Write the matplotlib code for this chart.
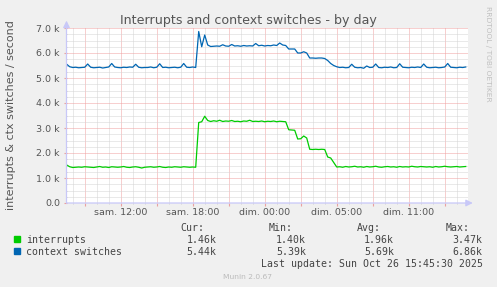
import numpy as np
import matplotlib
matplotlib.use("Agg")
import matplotlib.pyplot as plt
from matplotlib.patches import Rectangle

# 15 minute samples, in thousands per second
interrupts = [
    1.52, 1.45, 1.42, 1.43, 1.44, 1.43, 1.45, 1.44, 1.43, 1.42,
    1.44, 1.46, 1.43, 1.44, 1.42, 1.45, 1.44, 1.43, 1.44, 1.46,
    1.43, 1.42, 1.44, 1.45, 1.43, 1.40, 1.43, 1.44, 1.45, 1.43,
    1.44, 1.46, 1.43, 1.42, 1.44, 1.43, 1.45, 1.44, 1.43, 1.45,
    1.44, 1.43, 1.44, 1.43, 3.22, 3.25, 3.47, 3.30, 3.26, 3.29,
    3.27, 3.31, 3.26, 3.28, 3.27, 3.30, 3.26, 3.27, 3.25, 3.28,
    3.27, 3.31, 3.26, 3.27, 3.26, 3.28, 3.25, 3.27, 3.26, 3.28,
    3.25, 3.27, 3.26, 3.25, 2.93, 2.92, 2.91, 2.56, 2.57, 2.68,
    2.60, 2.15, 2.14, 2.15, 2.14, 2.15, 2.14, 1.84, 1.80, 1.62,
    1.44, 1.45, 1.43, 1.46, 1.44, 1.45, 1.47, 1.44, 1.45, 1.43,
    1.46, 1.44, 1.45, 1.47, 1.44, 1.43, 1.45, 1.46, 1.44, 1.45,
    1.43, 1.46, 1.44, 1.45, 1.44, 1.47, 1.45, 1.44, 1.46, 1.45,
    1.44, 1.45, 1.43, 1.46, 1.44, 1.45, 1.47, 1.45, 1.44, 1.45,
    1.46, 1.44, 1.45, 1.46,
]
ctx_switches = [
    5.55, 5.45, 5.42, 5.43, 5.41, 5.42, 5.43, 5.56, 5.43, 5.41,
    5.42, 5.43, 5.40, 5.42, 5.44, 5.58, 5.44, 5.42, 5.41, 5.43,
    5.42, 5.44, 5.43, 5.55, 5.43, 5.41, 5.42, 5.42, 5.44, 5.41,
    5.43, 5.57, 5.42, 5.43, 5.41, 5.42, 5.43, 5.41, 5.43, 5.58,
    5.43, 5.42, 5.44, 5.42, 6.86, 6.25, 6.72, 6.32, 6.26, 6.27,
    6.28, 6.27, 6.33, 6.28, 6.27, 6.34, 6.28, 6.29, 6.27, 6.30,
    6.28, 6.29, 6.28, 6.38, 6.29, 6.31, 6.28, 6.30, 6.29, 6.32,
    6.30, 6.40, 6.32, 6.30, 6.16, 6.16, 6.16, 6.00, 6.00, 6.05,
    6.00, 5.80, 5.80, 5.79, 5.80, 5.80, 5.78, 5.70, 5.58, 5.50,
    5.45, 5.42, 5.43, 5.41, 5.42, 5.55, 5.43, 5.41, 5.42, 5.39,
    5.48, 5.42, 5.43, 5.56, 5.42, 5.41, 5.43, 5.42, 5.44, 5.41,
    5.42, 5.57, 5.43, 5.42, 5.41, 5.43, 5.42, 5.44, 5.42, 5.56,
    5.43, 5.41, 5.42, 5.43, 5.41, 5.42, 5.44, 5.58, 5.43, 5.42,
    5.41, 5.43, 5.42, 5.44,
]
# hours relative to sam. 12:00
hours = np.arange(len(ctx_switches)) * 0.25 - 4.5

xtick_hours = [-3, 0, 3, 6, 9, 12, 15, 18, 21, 24, 27]
xtick_labels = ['', 'sam. 12:00', '', 'sam. 18:00', '', 'dim. 00:00', '',
                'dim. 05:00', '', 'dim. 11:00', '']
ytick_vals = [0, 1, 2, 3, 4, 5, 6, 7]

names = ['interrupts', 'context switches']
colors = ['#00cc00', '#0066b3']
cur = ['1.46k', '5.44k']
mins = ['1.40k', '5.39k']
avgs = ['1.96k', '5.69k']
maxs = ['3.47k', '6.86k']

W, H = 497, 287
def fy(py):
    return 1 - py / H

fig = plt.figure(figsize=(W / 100, H / 100), dpi=100, facecolor='#f0f0f0')
ax = fig.add_axes([66.5 / W, fy(203), (468 - 66.5) / W, (203 - 28) / H])
ax.set_facecolor('white')

ax.plot(hours, interrupts, color=colors[0], lw=0.9)
ax.plot(hours, ctx_switches, color=colors[1], lw=0.9)

ax.set_xlim(-4.517, 28.94)
ax.set_ylim(0, 7)
ax.set_xticks(xtick_hours)
ax.set_xticklabels(xtick_labels)
ax.set_xticks(np.arange(-4, 29, 1), minor=True)
ax.set_yticks(ytick_vals)
ax.set_yticklabels(['0.0'] + ['%.1f k' % v for v in ytick_vals[1:]])
ax.set_yticks(np.arange(0, 7.01, 0.25), minor=True)

ax.grid(which='minor', color='#d4d4d4', linestyle=(0, (1, 1)), linewidth=0.72)
ax.grid(which='major', color='#f0a0a0', linestyle=(0, (1, 1)), linewidth=0.72)
ax.set_axisbelow(True)
for s in ax.spines.values():
    s.set_visible(False)
ax.tick_params(which='major', length=2, color='#eaa0a0', labelsize=6.8,
               labelcolor='#555555')
ax.tick_params(which='minor', length=1, color='#cccccc')
ax.tick_params(axis='x', pad=1.5)
ax.tick_params(axis='y', pad=2.7)

arrow_kw = dict(arrowstyle='-|>,head_length=0.4,head_width=0.2',
                color='#c8c8f8', lw=0.9, shrinkA=0, shrinkB=0)
ax.annotate('', xy=(1.012, 0), xytext=(0, 0), xycoords='axes fraction',
            arrowprops=arrow_kw, annotation_clip=False)
ax.annotate('', xy=(0, 1.042), xytext=(0, 0), xycoords='axes fraction',
            arrowprops=arrow_kw, annotation_clip=False)

fig.text(248 / W, fy(24), 'Interrupts and context switches - by day',
         ha='center', va='baseline', fontsize=9.1, color='#555555')
fig.text(11 / W, fy(114.6), 'interrupts & ctx switches / second',
         rotation=90, ha='center', va='center', fontsize=8, color='#555555')
fig.text(488 / W, fy(53.5), 'RRDTOOL / TOBI OETIKER', rotation=270,
         ha='center', va='center', fontsize=5.4, color='#c0c0c0')

mono = dict(family='DejaVu Sans Mono', fontsize=7.1, color='#444444',
            va='baseline')
for label, xe in zip(['Cur:', 'Min:', 'Avg:', 'Max:'], [204, 293, 381, 470]):
    fig.text(xe / W, fy(231), label, ha='right', **mono)
for row, base in enumerate([243, 255]):
    fig.patches.append(Rectangle((14 / W, fy(base - 1)), 6 / W, 6 / H,
                                 transform=fig.transFigure,
                                 color=colors[row], figure=fig))
    fig.text(26.3 / W, fy(base), names[row], ha='left', **mono)
    for val, xe in zip([cur[row], mins[row], avgs[row], maxs[row]],
                       [216.7, 306, 394, 482.7]):
        fig.text(xe / W, fy(base), val, ha='right', **mono)
fig.text(482.7 / W, fy(267), 'Last update: Sun Oct 26 15:45:30 2025',
         ha='right', **mono)
fig.text(247.7 / W, fy(279.3), 'Munin 2.0.67', ha='center', va='baseline',
         fontsize=5.4, color='#bbbbbb')

fig.savefig('out.png', dpi=100, facecolor=fig.get_facecolor())
